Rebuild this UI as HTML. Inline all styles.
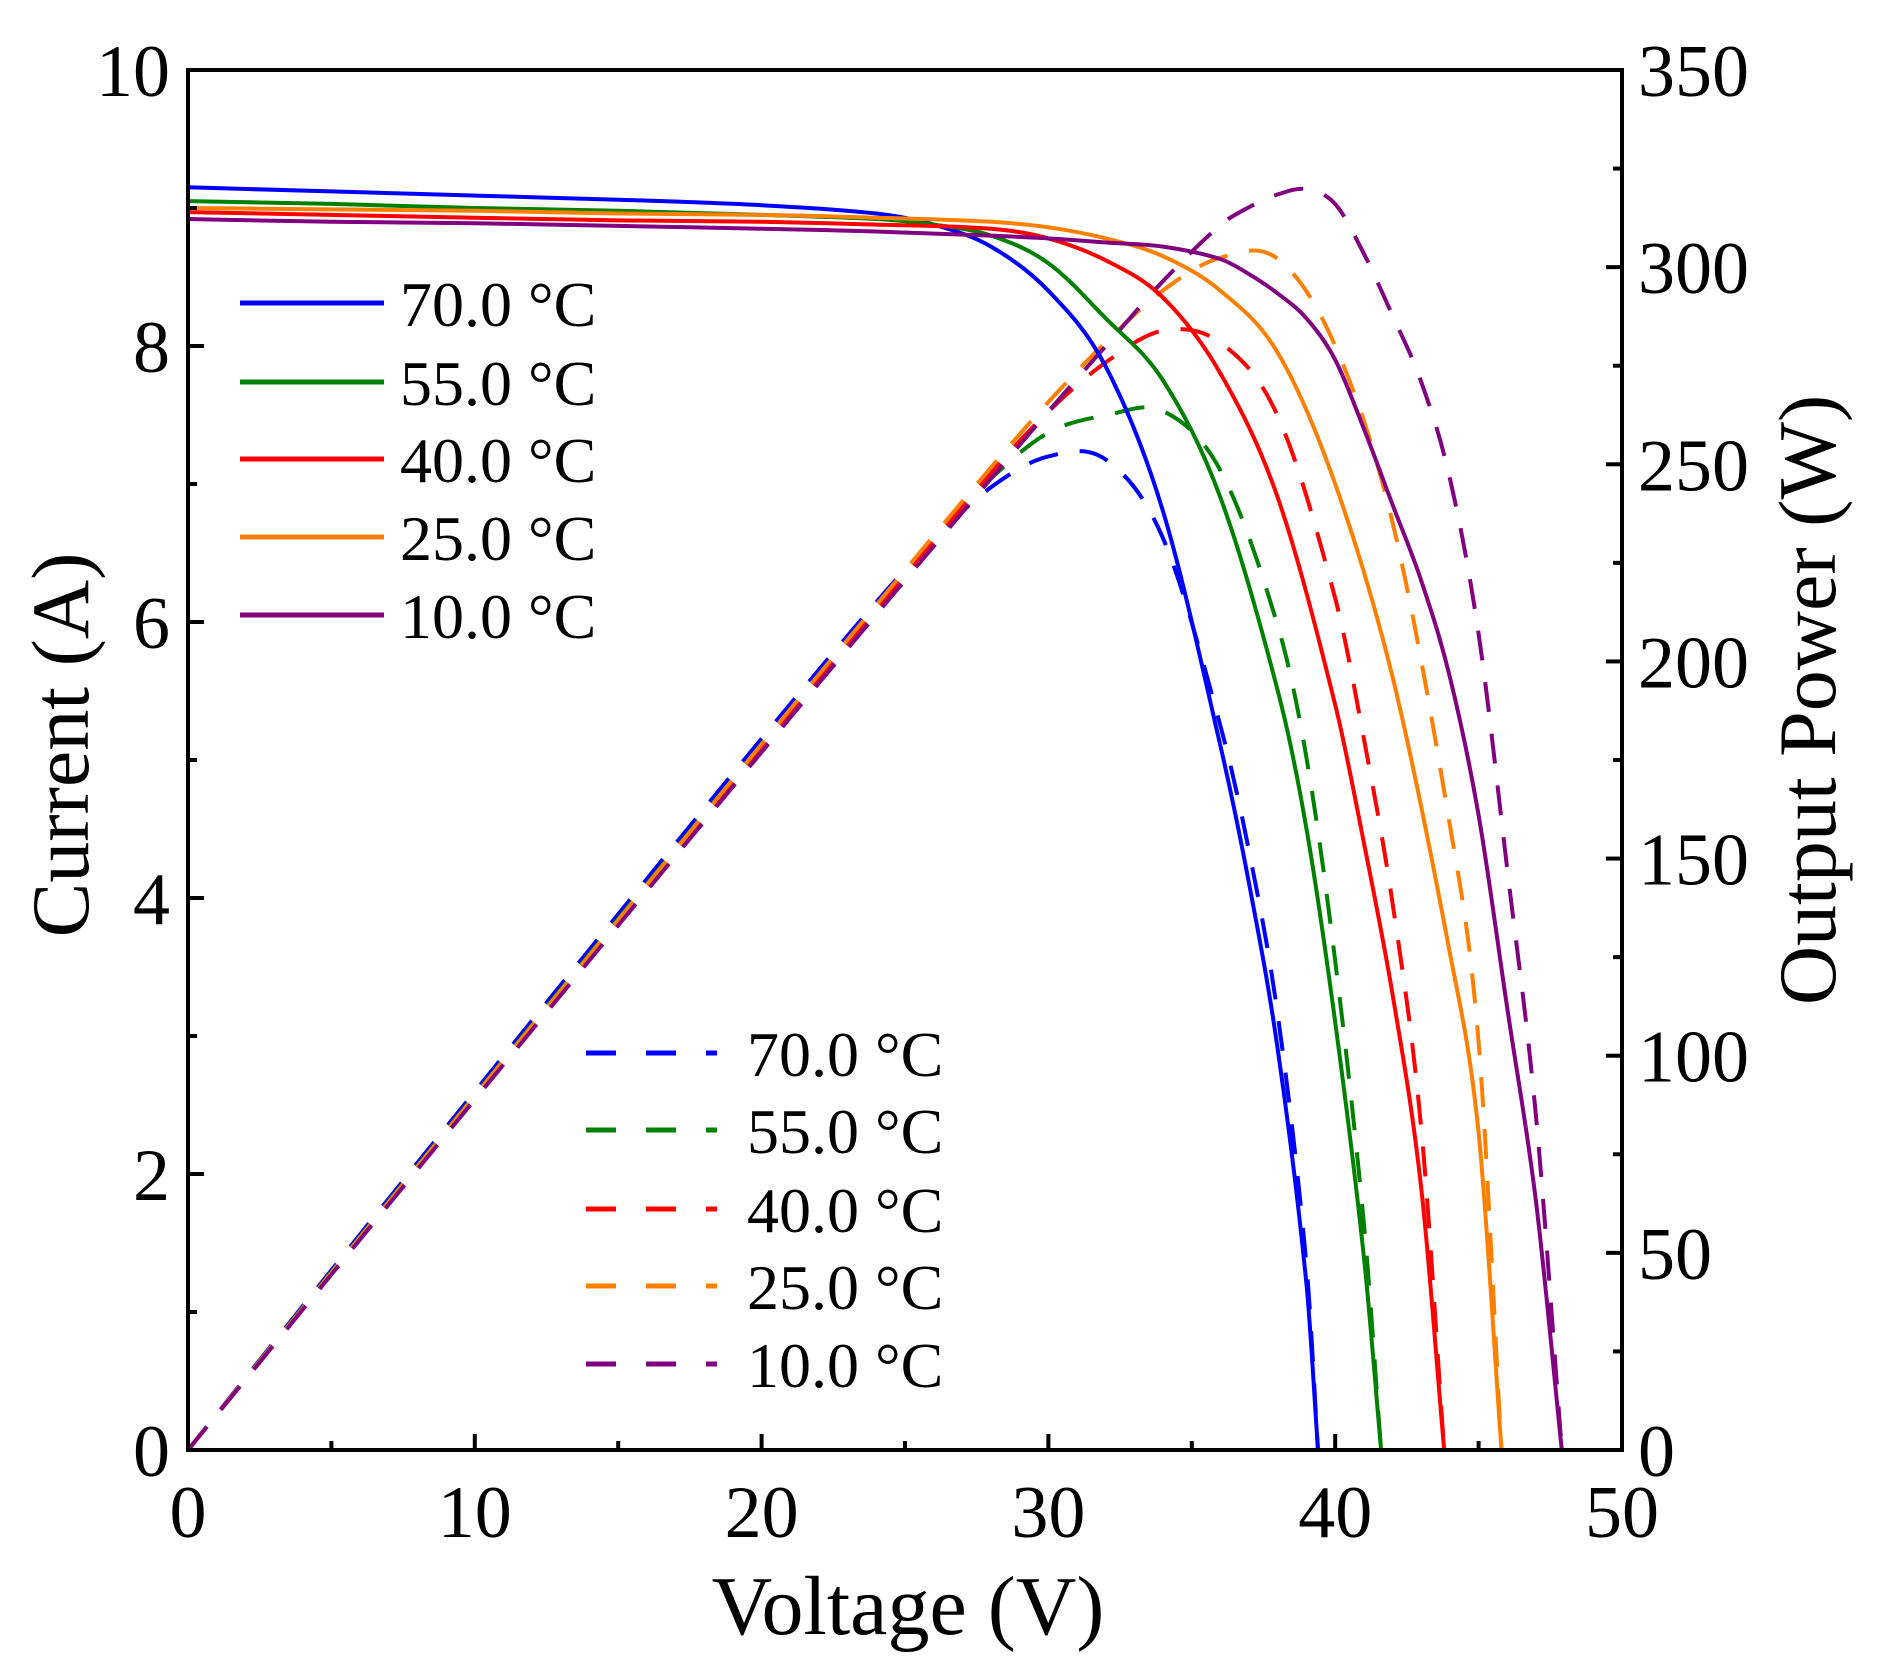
<!DOCTYPE html>
<html><head><meta charset="utf-8"><style>
html,body{margin:0;padding:0;background:#fff}
svg text{font-family:"Liberation Serif",serif;fill:#000}
</style></head><body>
<svg id="chart" width="1877" height="1670" viewBox="0 0 1877 1670" xmlns="http://www.w3.org/2000/svg">
<g id="series"></g>
<rect x="188" y="70" width="1434" height="1380" fill="none" stroke="#000" stroke-width="4"/>
<g id="axes"></g>
<text x="908" y="1634" font-size="84" text-anchor="middle">Voltage (V)</text>
<text transform="translate(88,745) rotate(-90)" font-size="82" text-anchor="middle">Current (A)</text>
<text transform="translate(1835,700) rotate(-90)" font-size="82" text-anchor="middle">Output Power (W)</text>
<g id="legend"></g>
</svg>
<script>
const temps = ["70.0 °C","55.0 °C","40.0 °C","25.0 °C","10.0 °C"];
const colors = ["#0000ff","#008000","#ff0000","#ff8000","#800080"];
const v70 = [0,5,10,15,20,24,26,28,30,32,34,36,37,38,39,39.4];
const i70 = [9.15,9.12,9.09,9.06,9.02,8.96,8.88,8.72,8.4,7.85,6.8,5.1,4.1,2.9,1.2,0];
const v55 = [0,5,10,15,20,24,26,28,30,32,34,36,38,39,40,41,41.6];
const i55 = [9.05,9.03,9.0,8.98,8.95,8.92,8.88,8.8,8.6,8.2,7.75,6.9,5.5,4.5,3.1,1.4,0];
const v40 = [0,5,10,15,20,24,28,30,32,34,36,38,40,41,42,43,43.8];
const i40 = [8.97,8.95,8.93,8.91,8.9,8.88,8.85,8.78,8.62,8.35,7.8,6.9,5.4,4.4,3.3,1.9,0];
const v25 = [0,5,10,15,20,24,28,30,32,34,36,38,40,42,44,45,45.8];
const i25 = [9.0,8.99,8.98,8.96,8.95,8.93,8.9,8.86,8.78,8.65,8.4,7.95,7.0,5.6,3.6,2.3,0];
const v10 = [0,5,10,15,20,24,28,30,32,34,36,37,38,39,40,41,42,43,44,45,46,47,47.9];
const i10 = [8.92,8.9,8.89,8.87,8.85,8.83,8.8,8.78,8.75,8.72,8.63,8.52,8.38,8.2,7.9,7.4,6.85,6.3,5.6,4.6,3.2,1.8,0];
const xTicks = [0,10,20,30,40,50];
const yTicks = [0,2,4,6,8,10];
const y2Ticks = [0,50,100,150,200,250,300,350];

const VS=[v70,v55,v40,v25,v10], IS=[i70,i55,i40,i25,i10];
const X0=188,X1=1622,Y0=1450,Y1=70;
const sx=v=>X0+(v/50)*(X1-X0);
const sy=i=>Y0-(i/10)*(Y0-Y1);
const sp=p=>Y0-(p/350)*(Y0-Y1);
const NS="http://www.w3.org/2000/svg";
function mk(t,a,parent){const e=document.createElementNS(NS,t);for(const k in a)e.setAttribute(k,a[k]);parent.appendChild(e);return e;}
function smooth(pts){
  let d="M"+pts[0][0].toFixed(1)+","+pts[0][1].toFixed(1);
  for(let k=0;k<pts.length-1;k++){
    const p0=pts[Math.max(0,k-1)],p1=pts[k],p2=pts[k+1],p3=pts[Math.min(pts.length-1,k+2)];
    const h=p2[0]-p1[0];
    const m1=(p2[1]-p0[1])/((p2[0]-p0[0])||1), m2=(p3[1]-p1[1])/((p3[0]-p1[0])||1);
    const c1=[p1[0]+h/3,p1[1]+m1*h/3];
    const c2=[p2[0]-h/3,p2[1]-m2*h/3];
    d+="C"+c1.map(n=>n.toFixed(1))+" "+c2.map(n=>n.toFixed(1))+" "+p2[0].toFixed(1)+","+p2[1].toFixed(1);
  }
  return d;
}
const S=document.getElementById("series");
for(let s=0;s<5;s++){
  const V=VS[s],I=IS[s];
  const ptsP=V.map((v,k)=>[sx(v),sp(v*I[k])]);
  const pp=mk("path",{d:smooth(ptsP),fill:"none",stroke:colors[s],"stroke-width":4,"stroke-dasharray":"30 22"},S);
  
  
}
for(let s=0;s<5;s++){
  const V=VS[s],I=IS[s];
  const ptsI=V.map((v,k)=>[sx(v),sy(I[k])]);
  const pc=mk("path",{d:smooth(ptsI),fill:"none",stroke:colors[s],"stroke-width":4},S);
  
  
}
const A=document.getElementById("axes");
for(let v=0;v<=50;v+=5){
  const maj=v%10===0;
  const t=mk("line",{x1:sx(v),x2:sx(v),y1:Y0,y2:Y0-(maj?16:9),stroke:"#000","stroke-width":4},A);
  
  
}
xTicks.forEach(v=>{const t=mk("text",{x:sx(v),y:1537,"font-size":74,"text-anchor":"middle"},A);t.textContent=v;
  
  });
for(let i=0;i<=10;i+=1){
  const maj=i%2===0;
  const t=mk("line",{x1:X0,x2:X0+(maj?16:9),y1:sy(i),y2:sy(i),stroke:"#000","stroke-width":4},A);
  
  
}
yTicks.forEach(i=>{const t=mk("text",{x:170,y:sy(i)+26,"font-size":74,"text-anchor":"end"},A);t.textContent=i;
  
  });
for(let p=0;p<=350;p+=25){
  const maj=p%50===0;
  const t=mk("line",{x1:X1,x2:X1-(maj?16:9),y1:sp(p),y2:sp(p),stroke:"#000","stroke-width":4},A);
  
  
}
y2Ticks.forEach(p=>{const t=mk("text",{x:1638,y:sp(p)+26,"font-size":74,"text-anchor":"start"},A);t.textContent=p;
  
  });
const L=document.getElementById("legend");
const solidY=[303,382,459,537,615], dashY=[1053,1130,1209,1286,1364];
for(let s=0;s<5;s++){
  const l1=mk("line",{x1:240,x2:384,y1:solidY[s],y2:solidY[s],stroke:colors[s],"stroke-width":5},L);
  
  
  const t1=mk("text",{x:400,y:solidY[s]+23,"font-size":64},L);t1.textContent=temps[s];
  
  
  const l2=mk("line",{x1:586,x2:717,y1:dashY[s],y2:dashY[s],stroke:colors[s],"stroke-width":5,"stroke-dasharray":"30 30"},L);
  
  
  const t2=mk("text",{x:747,y:dashY[s]+23,"font-size":64},L);t2.textContent=temps[s];
  
  
}
</script>
</body></html>
